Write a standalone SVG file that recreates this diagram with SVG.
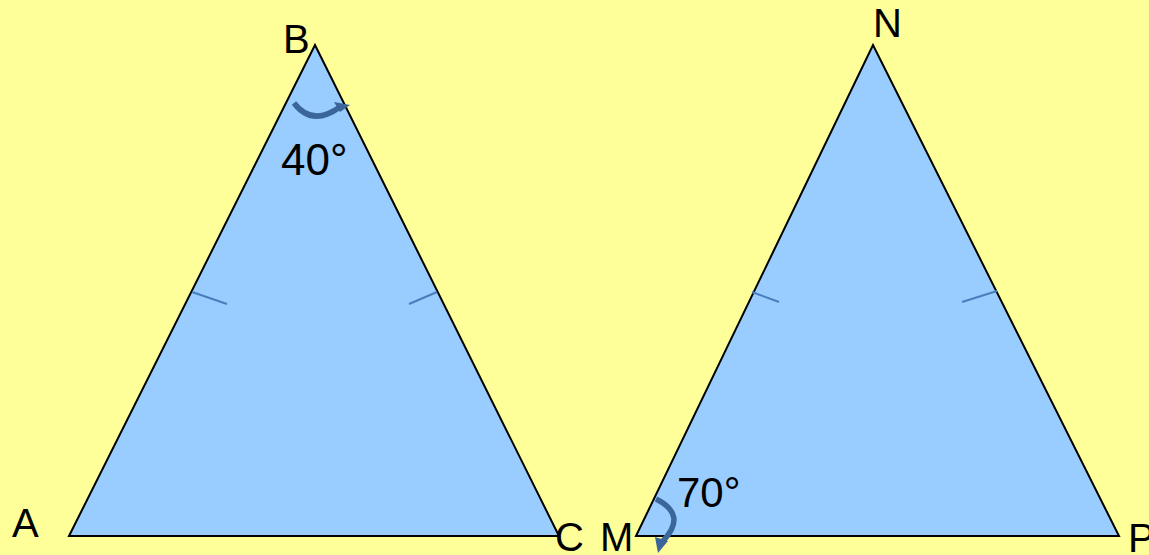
<svg xmlns="http://www.w3.org/2000/svg" width="1149" height="555" viewBox="0 0 1149 555">
<style>
.tri{fill:#99CCFF;stroke:#000;stroke-width:2;stroke-linejoin:miter}
.tick{stroke:#4A7EBB;stroke-width:2;fill:none}
.arc{stroke:#3B6699;stroke-width:5.5;fill:none;stroke-linecap:butt}
.head{fill:#3B6699}
.lbl{font-family:"Liberation Sans",Arial,sans-serif;font-size:40px;fill:#000}
.ang{font-family:"Liberation Sans",Arial,sans-serif;fill:#000}
</style>
<rect width="1149" height="555" fill="#FFFF99"/>
<g id="triangle-ABC">
<polygon class="tri" points="69,536 315,45 559,536"/>
<line class="tick" x1="192" y1="292" x2="227" y2="304"/>
<line class="tick" x1="409" y1="304" x2="437" y2="292"/>
</g>
<g id="triangle-MNP">
<polygon class="tri" points="636,536 873,45 1119,536"/>
<line class="tick" x1="752" y1="292" x2="779" y2="302"/>
<line class="tick" x1="962" y1="302" x2="997" y2="291"/>
</g>
<g id="angle-B">
<path class="arc" d="M294,103 Q312,127 340,107"/>
<polygon class="head" points="334,102 350,105 340,112"/>
<text class="ang" x="281" y="175" font-size="44">40°</text>
</g>
<g id="angle-M">
<path class="arc" d="M656,499 Q688,515 663,541"/>
<polygon class="head" points="655,537 668,541 658,553"/>
<text class="ang" x="677" y="507" font-size="42">70°</text>
</g>
<g id="labels">
<text class="lbl" x="283" y="53">B</text>
<text class="lbl" x="873" y="37">N</text>
<text class="lbl" x="12" y="537">A</text>
<text class="lbl" x="555" y="551">C</text>
<text class="lbl" x="600" y="551">M</text>
<text class="lbl" x="1128" y="552">P</text>
</g>
</svg>
